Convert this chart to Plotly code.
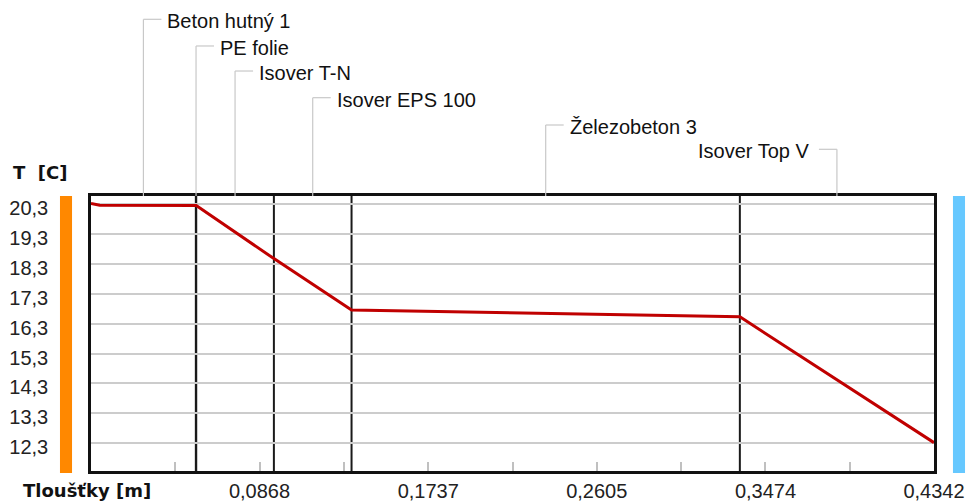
import plotly.graph_objects as go

# ---- data ----
layer_names = ["Beton hutný 1", "PE folie", "Isover T-N", "Isover EPS 100", "Železobeton 3", "Isover Top V"]
layer_thickness = [0.054, 0.0002, 0.04, 0.04, 0.2, 0.1]

profile_x = [0.0, 0.0045, 0.054, 0.0542, 0.0942, 0.1342, 0.3342, 0.4342]
profile_t = [20.33, 20.27, 20.26, 20.26, 18.48, 16.76, 16.53, 12.32]

x_tick_vals = [0.0868, 0.1737, 0.2605, 0.3474, 0.4342]
x_tick_text = ["0,0868", "0,1737", "0,2605", "0,3474", "0,4342"]
x_minor_vals = [0.0434, 0.1302, 0.2171, 0.3039, 0.3908]

y_tick_vals = [12.3, 13.3, 14.3, 15.3, 16.3, 17.3, 18.3, 19.3, 20.3]
y_tick_text = ["12,3", "13,3", "14,3", "15,3", "16,3", "17,3", "18,3", "19,3", "20,3"]

# ---- layout helpers (label heights in paper units, leader direction) ----
label_levels = [1.6425, 1.5455, 1.4545, 1.3575, 1.2582, 1.1698]
label_side = [1, 1, 1, 1, 1, -1]

# layer boundaries & midpoints from thicknesses
bounds = [0.0]
for t in layer_thickness:
    bounds.append(bounds[-1] + t)
mids = [(bounds[i] + bounds[i + 1]) / 2 for i in range(len(layer_thickness))]
total = bounds[-1]

fig = go.Figure()
fig.add_trace(go.Scatter(
    x=profile_x, y=profile_t, mode="lines",
    line=dict(color="#C00000", width=3), hoverinfo="skip", showlegend=False))

shapes = []
# internal layer boundaries
for b in bounds[1:-1]:
    shapes.append(dict(type="line", xref="x", yref="paper", x0=b, x1=b, y0=0, y1=1,
                       line=dict(color="#1a1a1a", width=2), layer="below"))

annotations = []
leader_col = "#c8c8c8"
for name, m, lvl, side in zip(layer_names, mids, label_levels, label_side):
    shapes.append(dict(type="line", xref="x", yref="paper", x0=m, x1=m, y0=1, y1=lvl,
                       line=dict(color=leader_col, width=1.2)))
    shapes.append(dict(type="line", xref="x", yref="paper", xsizemode="pixel", xanchor=m,
                       x0=0, x1=18 * side, y0=lvl, y1=lvl,
                       line=dict(color=leader_col, width=1.2)))
    annotations.append(dict(
        x=m, y=lvl, xref="x", yref="paper", text=name, showarrow=False,
        xanchor="left" if side > 0 else "right", yanchor="middle",
        xshift=22 if side > 0 else -26, yshift=-2,
        font=dict(family="Liberation Sans, Arial", size=20, color="#111")))

# side colour bars (interior / exterior)
shapes.append(dict(type="rect", xref="paper", yref="paper", x0=-0.0368, x1=-0.0225,
                   y0=-0.007, y1=1, fillcolor="#FF8800", line=dict(width=0)))
shapes.append(dict(type="rect", xref="paper", yref="paper", x0=1.0225, x1=1.0368,
                   y0=-0.007, y1=1, fillcolor="#66C8FF", line=dict(width=0)))

annotations.append(dict(x=-0.0949, y=1.087, xref="paper", yref="paper", text="T&nbsp; [C]",
                        showarrow=False, xanchor="left", yanchor="middle",
                        font=dict(family="DejaVu Sans", size=18, color="#111", weight="bold")))
annotations.append(dict(x=-0.0827, y=-0.0727, xref="paper", yref="paper", text="Tloušťky [m]",
                        showarrow=False, xanchor="left", yanchor="middle",
                        font=dict(family="DejaVu Sans", size=18, color="#111", weight="bold")))

fig.update_layout(
    width=967, height=504,
    margin=dict(l=91, r=33, t=196, b=33, autoexpand=False),
    paper_bgcolor="white", plot_bgcolor="white",
    shapes=shapes, annotations=annotations, showlegend=False,
    font=dict(family="Liberation Sans, Arial", size=20, color="#222"),
)
fig.update_xaxes(
    range=[0, total], showgrid=False, zeroline=False, automargin=False,
    showline=True, linecolor="#111", linewidth=2.5, mirror=True,
    tickvals=x_tick_vals, ticktext=x_tick_text,
    ticks="inside", ticklen=9, tickwidth=1.5, tickcolor="#c0c0c0",
    minor=dict(tickvals=x_minor_vals, ticks="inside", ticklen=9, tickwidth=1.5, tickcolor="#c0c0c0"),
    ticklabelstandoff=0,
    tickfont=dict(size=20, color="#222"),
)
fig.update_yaxes(
    range=[11.37, 20.576], showgrid=True, gridcolor="#cccccc", gridwidth=1.5, zeroline=False,
    automargin=False,
    showline=True, linecolor="#111", linewidth=2.5, mirror=True,
    tickvals=y_tick_vals, ticktext=y_tick_text, ticks="",
    ticklabelstandoff=36, ticklabelshift=4,
    tickfont=dict(size=20, color="#222"),
)

fig.write_html("out.html", config={"displayModeBar": False},
               post_script="document.body.style.margin='0';document.body.style.overflow='hidden';")
